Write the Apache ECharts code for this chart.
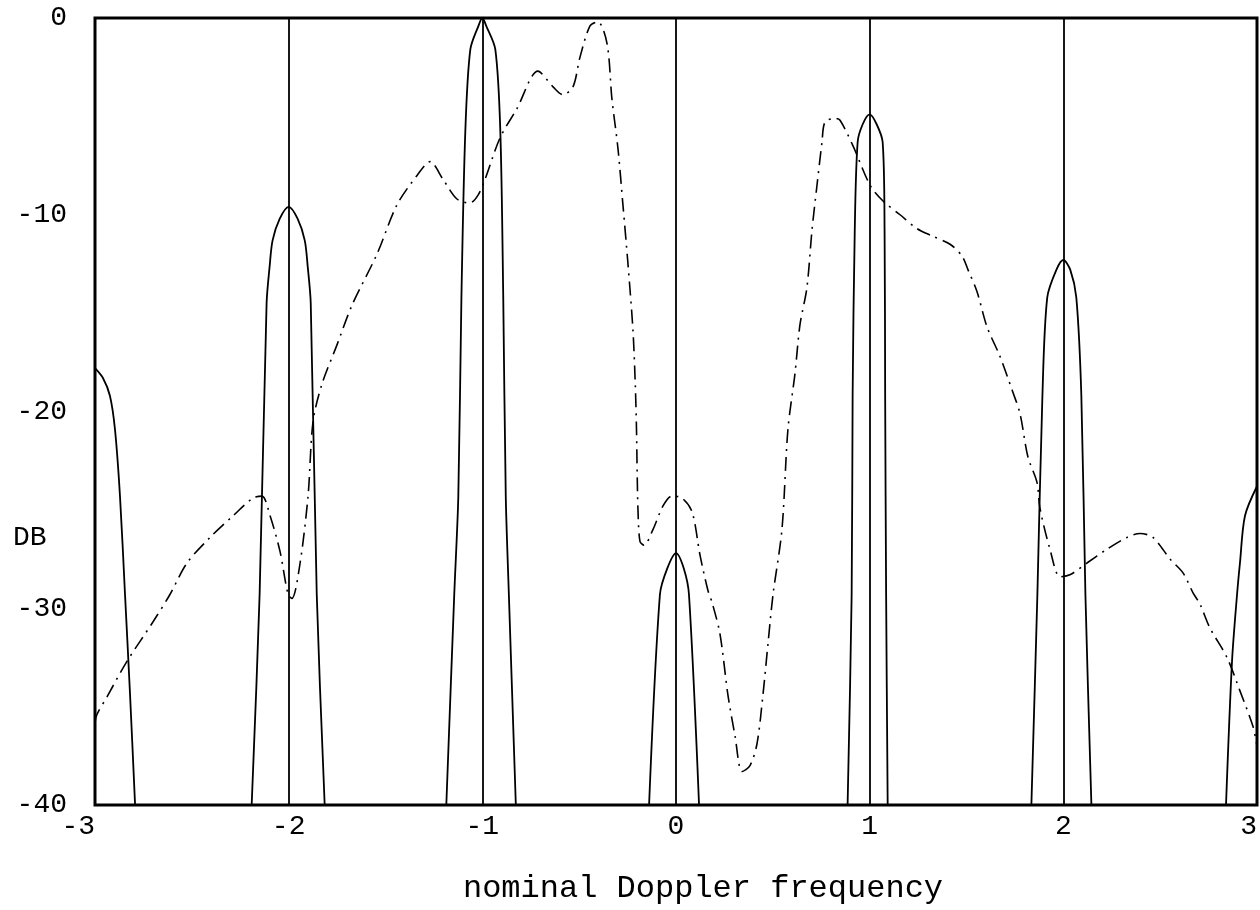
<!DOCTYPE html>
<html>
<head>
<meta charset="utf-8">
<script src="https://cdn.jsdelivr.net/npm/echarts@6/dist/echarts.min.js"></script>
<style>
  html, body { margin: 0; padding: 0; background: #fff; }
  #chart { width: 1260px; height: 910px; }
</style>
</head>
<body>
<div id="chart"></div>
<script>
// main lobes of the filter response, [frequency, dB]
const lobeM3 = [[-3, -17.8], [-2.959, -18.3], [-2.923, -19.2], [-2.897, -20.9], [-2.871, -24.3], [-2.845, -29.3], [-2.819, -34.4], [-2.793, -40]]
const lobeM2 = [[-2.191, -40], [-2.150, -29.3], [-2.114, -14.5], [-2.098, -12.6], [-2.083, -11.3], [-2.046, -10.2], [-2, -9.6],
  [-1.954, -10.2], [-1.917, -11.3], [-1.902, -12.6], [-1.886, -14.5], [-1.855, -29.3], [-1.814, -40]]
const lobeM1 = [[-1.186, -40], [-1.145, -29.3], [-1.124, -24.3], [-1.108, -14.2], [-1.088, -5.8], [-1.062, -1.6], [-1.02, -0.4], [-1, 0],
  [-0.98, -0.4], [-0.933, -1.6], [-0.907, -5.8], [-0.892, -14.2], [-0.879, -24.3], [-0.863, -29.3], [-0.827, -40]]
const lobe0 = [[-0.139, -40], [-0.083, -29.3], [-0.046, -28.0], [0, -27.2], [0.041, -28.0], [0.067, -29.3], [0.119, -40]]
const lobe1 = [[0.886, -40], [0.907, -29.3], [0.912, -19.2], [0.923, -10.8], [0.938, -6.3], [0.964, -5.4], [1, -4.9],
  [1.036, -5.4], [1.067, -6.3], [1.077, -10.8], [1.080, -19.2], [1.085, -29.3], [1.093, -40]]
const lobe2 = [[1.835, -40], [1.866, -29.3], [1.892, -19.2], [1.917, -14.2], [1.964, -12.8], [2, -12.3],
  [2.036, -12.8], [2.067, -14.2], [2.093, -19.2], [2.114, -29.3], [2.145, -40]]
const lobe3 = [[2.840, -40], [2.871, -32.7], [2.897, -29.3], [2.912, -27.7], [2.938, -25.3], [3, -23.8]]
const lobes = [lobeM3, lobeM2, lobeM1, lobe0, lobe1, lobe2, lobe3]

// dash-dot curve
const response = [
  [-3, -35.8], [-2.990, -35.4], [-2.938, -34.5], [-2.835, -32.7], [-2.701, -30.7], [-2.613, -29.3], [-2.525, -27.7],
  [-2.406, -26.4], [-2.287, -25.3], [-2.184, -24.4], [-2.138, -24.3], [-2.096, -25.3], [-2.045, -27.1], [-2.003, -29.3],
  [-1.983, -29.5], [-1.941, -27.7], [-1.900, -24.3], [-1.874, -20.5], [-1.828, -18.6], [-1.750, -16.6], [-1.673, -14.6],
  [-1.544, -12.0], [-1.441, -9.5], [-1.337, -8.0], [-1.270, -7.3], [-1.203, -8.2], [-1.131, -9.2], [-1.064, -9.4],
  [-1.022, -9.0], [-0.986, -8.2], [-0.909, -6.1], [-0.821, -4.6], [-0.713, -2.7], [-0.635, -3.5], [-0.584, -3.9],
  [-0.532, -3.5], [-0.496, -2.0], [-0.444, -0.4], [-0.403, -0.2], [-0.356, -1.3], [-0.331, -4.1], [-0.300, -6.6],
  [-0.274, -9.5], [-0.248, -12.5], [-0.222, -15.9], [-0.210, -18.7], [-0.204, -20.9], [-0.200, -23.4], [-0.196, -25.1],
  [-0.186, -26.6], [-0.165, -26.8], [-0.119, -26.0], [-0.067, -24.8], [-0.021, -24.3], [0.031, -24.4], [0.083, -25.1],
  [0.124, -27.3], [0.165, -29.1], [0.186, -29.7], [0.227, -31.3], [0.268, -34.4], [0.305, -36.5], [0.341, -38.3],
  [0.382, -38.0], [0.418, -36.9], [0.449, -34.4], [0.475, -31.8], [0.501, -29.3], [0.547, -26.0], [0.578, -20.9],
  [0.614, -18.1], [0.640, -15.6], [0.676, -13.7], [0.702, -10.8], [0.728, -8.5], [0.754, -6.3], [0.769, -5.3],
  [0.821, -5.1], [0.847, -5.2], [0.914, -6.5], [1.002, -8.5], [1.069, -9.3], [1.157, -10.0], [1.244, -10.7],
  [1.327, -11.1], [1.415, -11.5], [1.477, -12.1], [1.508, -12.8], [1.554, -13.9], [1.606, -15.7], [1.673, -17.2],
  [1.735, -18.9], [1.776, -20.1], [1.817, -22.3], [1.864, -23.6], [1.879, -24.9], [1.931, -27.0], [1.983, -28.4],
  [2.034, -28.3], [2.122, -27.7], [2.225, -27.0], [2.329, -26.4], [2.396, -26.2], [2.463, -26.4], [2.551, -27.5],
  [2.618, -28.2], [2.669, -29.2], [2.706, -29.8], [2.757, -31.0], [2.845, -32.5], [2.912, -34.2], [2.979, -36.0], [3, -37.0]
]

const yTicks = [-40, -30, -20, -10, 0]
const xTicks = [-3, -2, -1, 0, 1, 2, 3]

const font = 'Liberation Mono'
const chart = echarts.init(document.getElementById('chart'))
chart.setOption({
  animation: false,
  backgroundColor: '#fff',
  grid: {
    left: 95, right: 3, top: 18, bottom: 98,
    show: true, borderColor: '#000', borderWidth: 3
  },
  xAxis: {
    type: 'value',
    min: xTicks[0],
    max: xTicks[xTicks.length - 1],
    interval: 1,
    name: 'nominal Doppler frequency',
    nameLocation: 'middle',
    nameGap: 68,
    nameTextStyle: { fontFamily: font, fontSize: 32, color: '#000', padding: [0, 0, 0, 54] },
    axisLine: { show: false },
    axisTick: { show: false },
    axisLabel: {
      fontFamily: font, fontSize: 28, color: '#000', margin: 8,
      alignMinLabel: 'right', alignMaxLabel: 'right'
    },
    splitLine: { show: true, lineStyle: { color: '#000', width: 1.8 } }
  },
  yAxis: {
    type: 'value',
    min: yTicks[0],
    max: yTicks[yTicks.length - 1],
    interval: 10,
    axisLine: { show: false },
    axisTick: { show: false },
    axisLabel: { fontFamily: font, fontSize: 28, color: '#000', margin: 28 },
    splitLine: { show: false }
  },
  graphic: [{
    type: 'text',
    left: 13,
    top: 524,
    style: { text: 'DB', font: '28px "Liberation Mono"', fill: '#000' }
  }],
  series: lobes.map(d => ({
    type: 'line',
    data: d,
    symbol: 'none',
    smooth: 0.3,
    lineStyle: { color: '#000', width: 1.8 }
  })).concat([{
    type: 'line',
    data: response,
    symbol: 'none',
    smooth: 0.3,
    lineStyle: { color: '#000', width: 1.6, type: [14, 6, 2, 6] }
  }])
})
</script>
</body>
</html>
